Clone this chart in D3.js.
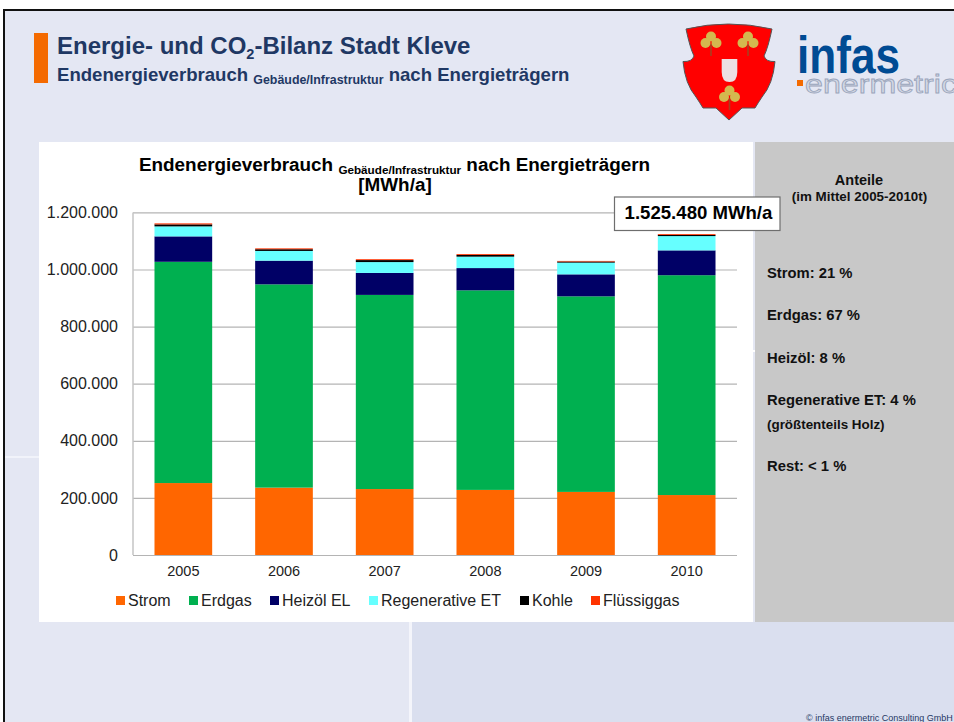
<!DOCTYPE html>
<html><head><meta charset="utf-8">
<script src="https://cdnjs.cloudflare.com/ajax/libs/d3/7.8.5/d3.min.js"></script>
<style>html,body{margin:0;padding:0;background:#fff}svg{display:block}text{font-family:"Liberation Sans",Arial,sans-serif}</style>
</head><body><svg id="c" width="954" height="722"></svg>
<script>
const years = ["2005","2006","2007","2008","2009","2010"];
const seriesNames = ["Strom","Erdgas","Heizöl EL","Regenerative ET","Kohle","Flüssiggas"];
const seriesColors = ["#ff6600","#00b050","#000066","#66ffff","#000000","#ff3300"];
const strom = [252000,236000,231000,228000,221000,210000];
const erdgas = [775000,712000,680000,699000,685000,770000];
const heizoel = [89000,83000,77000,78000,77000,87000];
const regenerativ = [35000,34000,38000,40000,41000,50000];
const kohle = [7000,6000,7000,6000,4000,4000];
const fluessiggas = [3500,3000,3000,3000,2000,3000];
const yTicks = [0,200000,400000,600000,800000,1000000,1200000];
const tickLabels = ["0","200.000","400.000","600.000","800.000","1.000.000","1.200.000"];
const shares = [["Strom: 21 %",278],["Erdgas: 67 %",320],["Heizöl: 8 %",363],["Regenerative ET: 4 %",405],["Rest: < 1 %",471]];

const svg = d3.select("#c");
const rect=(x,y,w,h,f)=>svg.append("rect").attr("x",x).attr("y",y).attr("width",w).attr("height",h).attr("fill",f);
const txt=(x,y,s,size,o={})=>svg.append("text").attr("x",x).attr("y",y).text(s).attr("font-size",size)
  .attr("font-weight",o.w||"normal").attr("fill",o.f||"#000").attr("text-anchor",o.a||"start");

// slide background
rect(0,0,954,722,"#fff");
rect(3,9,951,713,"#111");
rect(5,11,949,711,"#e4e7f3");
rect(412,622,542,100,"#dadfef");
rect(409,622,3,100,"#f4f5fb");
rect(5,456,36,2,"#f1f3fa");
// header
rect(34,33,14,50,"#f46a00");
const navy="#1f3864";
const t1=svg.append("text").attr("x",57).attr("y",54).attr("font-size",24).attr("font-weight","bold").attr("fill",navy);
t1.append("tspan").text("Energie- und CO");
t1.append("tspan").text("2").attr("font-size",14.5).attr("dy",5);
t1.append("tspan").text("-Bilanz Stadt Kleve").attr("dy",-5);
const t2=svg.append("text").attr("x",57).attr("y",81).attr("font-size",18.6).attr("font-weight","bold").attr("fill",navy);
t2.append("tspan").text("Endenergieverbrauch ");
t2.append("tspan").text("Gebäude/Infrastruktur").attr("font-size",12.4).attr("dy",3);
t2.append("tspan").text(" nach Energieträgern").attr("dy",-3);

// coat of arms
const g=svg.append("g");
g.append("path").attr("fill","#ff0000").attr("stroke","#555").attr("stroke-width",1)
 .attr("d","M686 29 Q728 19 772 29 Q768 48 764 56 Q766 62 775 61.5 Q773 84 762 97 Q758 103 755 108 L742 108 L729 120 L716 108 L703 108 Q700 103 696 97 Q685 84 683 61.5 Q692 62 694 56 Q690 48 686 29Z");
g.append("path").attr("fill","#ecdfe3").attr("d","M721.7 59 H737.3 V72 Q737.3 82 729.5 82 Q721.7 82 721.7 72Z");
[[711,43],[748,43],[729.5,97]].forEach(([x,y])=>{
  const c=g.append("g").attr("transform",`translate(${x},${y})`);
  c.append("rect").attr("x",-0.8).attr("y",1).attr("width",1.6).attr("height",12).attr("fill","#a84020");
  [[0,-6.5],[-5.5,0],[5.5,0]].forEach(([a,b])=>c.append("circle").attr("cx",a).attr("cy",b).attr("r",5).attr("fill","#d4b84f"));
});
// infas logo
svg.append("text").attr("x",797).attr("y",73).text("infas").attr("font-size",52).attr("font-weight","bold").attr("fill","#004b93").attr("textLength",103).attr("lengthAdjust","spacingAndGlyphs");
rect(797,80,6,6,"#f46a00");
svg.append("text").attr("x",805).attr("y",93).text("enermetric").attr("font-size",26).attr("fill","#d4d9e6").attr("stroke","#9aa5bb").attr("stroke-width",0.8).attr("textLength",152).attr("lengthAdjust","spacingAndGlyphs");

// chart panel
rect(39,142,714,480,"#fff");
rect(755,142,199,480,"#c8c8c8");
rect(753,350,2,2,"#fff");
const title=svg.append("text").attr("x",394.5).attr("y",171).attr("text-anchor","middle").attr("font-size",18.9).attr("font-weight","bold");
title.append("tspan").text("Endenergieverbrauch ");
title.append("tspan").text("Gebäude/Infrastruktur").attr("font-size",11.7).attr("dy",3);
title.append("tspan").text(" nach Energieträgern").attr("dy",-3);
txt(395,191,"[MWh/a]",18.9,{w:"bold",a:"middle"});

const x=d3.scaleBand().domain(years).range([133,737]).paddingInner(0.427).paddingOuter(0.2135);
const y=d3.scaleLinear().domain([0,1200000]).range([555,212.4]);

const plot=svg.append("g");
const axisL=d3.axisLeft(y).tickValues(yTicks).tickFormat((d,i)=>tickLabels[i]).tickSize(-604).tickPadding(15);
const ga=plot.append("g").attr("transform","translate(133,0)").call(axisL);
ga.select(".domain").remove();
ga.selectAll("line").attr("stroke","#b4b4b4").attr("stroke-width",1.2);
ga.selectAll("text").attr("font-size",16).attr("fill","#222");
plot.append("line").attr("x1",133).attr("x2",133).attr("y1",y(1200000)).attr("y2",555).attr("stroke","#c4c4c4").attr("stroke-width",1.5);

const rows=years.map((yr,i)=>({yr,Strom:strom[i],Erdgas:erdgas[i],"Heizöl EL":heizoel[i],"Regenerative ET":regenerativ[i],Kohle:kohle[i],"Flüssiggas":fluessiggas[i]}));
const stack=d3.stack().keys(seriesNames)(rows);
plot.selectAll("g.s").data(stack).join("g").attr("class","s").attr("fill",(d,i)=>seriesColors[i])
 .selectAll("rect").data(d=>d).join("rect")
 .attr("x",d=>x(d.data.yr)).attr("width",x.bandwidth())
 .attr("y",d=>y(d[1])).attr("height",d=>y(d[0])-y(d[1]));

const ax=d3.axisBottom(x).tickSize(0).tickPadding(11);
const gx=plot.append("g").attr("transform","translate(0,555)").call(ax);
gx.select(".domain").remove();
gx.selectAll("text").attr("font-size",14.5).attr("fill","#222");

// legend
const legendX=[116,189,270,369,520,591];
const lg=svg.append("g").selectAll("g").data(seriesNames).join("g").attr("transform",(d,i)=>`translate(${legendX[i]},0)`);
lg.append("rect").attr("y",596).attr("width",9).attr("height",9).attr("fill",(d,i)=>seriesColors[i]);
lg.append("text").attr("x",12).attr("y",606).attr("font-size",16).attr("fill","#222").text(d=>d);

// total box
rect(614.5,197,165.5,33.5,"#fff").attr("stroke","#6e6e6e").attr("stroke-width",1.2);
txt(698.5,219,"1.525.480 MWh/a",18.6,{w:"bold",a:"middle"});

// side panel
txt(859,185,"Anteile",14.5,{w:"bold",a:"middle",f:"#111"});
txt(859.5,201,"(im Mittel 2005-2010t)",13.4,{w:"bold",a:"middle",f:"#111"});
shares.forEach(([s,yy])=>txt(767,yy,s,14.8,{w:"bold",f:"#111"}));
txt(767,429,"(größtenteils Holz)",13.4,{w:"bold",f:"#111"});
txt(806,721,"© infas enermetric Consulting GmbH",9,{f:"#1f3864"});
</script></body></html>
